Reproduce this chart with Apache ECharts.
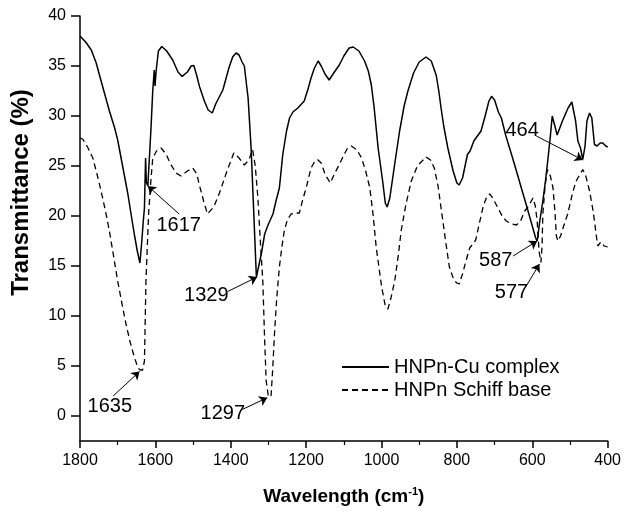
<!DOCTYPE html>
<html>
<head>
<meta charset="utf-8">
<script src="https://cdn.jsdelivr.net/npm/echarts@6/dist/echarts.min.js"></script>
<style>
html,body{margin:0;padding:0;background:#fff;}
#chart{width:624px;height:511px;}
</style>
</head>
<body>
<div id="chart"></div>
<script>
// ---- Data ----
const seriesNames = ['HNPn-Cu complex', 'HNPn Schiff base'];

const cuWave = [1800,1797,1785,1770,1757,1744,1733,1722,1708,1700,1691,1682,1673,1665,1656,1648,1641,1636,1632,1629,1626,1624,1620,1617,1612,1607,1603,1601,1598,1592,1583,1570,1554,1540,1529,1515,1505,1498,1490,1483,1470,1460,1449,1440,1421,1405,1395,1386,1378,1370,1364,1354,1346,1332,1329,1319,1310,1300,1288,1280,1271,1262,1252,1244,1235,1222,1205,1195,1187,1178,1168,1160,1150,1139,1125,1112,1100,1086,1075,1060,1045,1035,1027,1020,1009,997,990,985,978,965,952,940,930,915,900,882,868,855,848,842,835,824,810,800,794,785,772,765,755,736,725,715,708,700,690,682,670,655,642,629,615,600,591,587,580,572,565,559,552,547,545,540,534,520,505,495,490,485,479,472,466,460,455,448,442,435,428,420,413,405,400];
const cuTrans = [38.0,37.9,37.4,36.6,35.3,33.5,32.0,30.5,28.8,27.6,25.8,24.0,22.2,20.3,18.2,16.5,15.3,17.5,19.5,20.8,25.8,23.4,23.0,23.2,28.5,32.5,34.6,33.0,34.5,36.5,36.95,36.5,35.6,34.4,33.96,34.4,35.0,35.06,34.0,32.96,31.5,30.6,30.3,31.2,32.6,34.8,35.9,36.3,36.1,35.4,35.0,31.8,26.8,13.9,13.9,16.2,18.2,19.2,20.2,21.5,22.8,26.15,28.5,29.8,30.4,30.8,31.5,32.7,33.8,34.8,35.5,35.0,34.2,33.6,34.4,35.1,36.0,36.8,36.9,36.5,35.5,34.5,33.1,31.0,26.8,23.5,21.3,20.9,21.8,25.2,28.5,31.0,32.5,34.3,35.4,35.9,35.5,34.1,32.5,30.8,29.0,26.8,24.5,23.3,23.1,23.8,26.15,26.5,27.5,28.5,30.0,31.5,31.97,31.6,30.4,29.8,28.0,26.15,24.5,22.8,21.0,19.0,17.8,17.5,19.5,21.5,23.5,25.5,28.0,30.0,30.1,29.0,28.1,29.5,30.8,31.4,31.2,29.5,27.5,26.8,25.65,27.0,29.5,30.3,29.8,27.15,27.0,27.3,27.3,27.0,26.9];

const schiffWave = [1800,1793,1780,1766,1755,1744,1733,1722,1711,1700,1689,1678,1667,1656,1646,1640,1634,1629,1625,1618,1612,1607,1597,1585,1572,1559,1545,1532,1515,1501,1490,1484,1472,1462,1458,1445,1430,1410,1392,1378,1364,1352,1342,1335,1328,1320,1315,1310,1306,1300,1293,1289,1284,1278,1271,1264,1258,1250,1240,1228,1218,1210,1200,1187,1178,1170,1160,1150,1136,1125,1112,1100,1090,1080,1065,1053,1042,1031,1022,1014,1000,990,983,975,965,955,948,935,921,905,882,870,860,850,842,830,820,808,800,794,785,776,766,758,750,742,730,720,713,705,691,680,669,655,642,630,620,610,598,592,587,582,577,574,572,566,560,552,545,540,536,532,525,515,506,495,485,479,466,458,448,440,435,430,426,422,418,414,409,400];
const schiffTrans = [27.8,27.7,26.9,25.8,24.2,22.5,20.6,18.5,16.0,13.5,11.3,9.2,7.4,5.9,4.8,4.6,4.6,5.5,13.5,20.2,23.5,25.8,26.5,26.8,26.2,25.15,24.3,24.0,24.5,24.8,24.2,23.2,21.5,20.2,20.0,20.9,22.3,24.5,26.3,25.8,25.1,25.6,26.65,25.0,21.8,16.5,13.5,7.5,3.5,1.9,2.05,4.5,8.2,11.8,14.9,17.0,18.5,19.6,20.2,20.3,20.3,21.5,22.8,24.8,25.4,25.65,25.3,24.2,23.3,24.2,25.15,26.1,26.8,27.0,26.6,25.8,24.5,22.8,20.0,16.85,13.0,11.0,10.7,11.8,13.5,16.2,18.5,21.2,23.5,25.0,25.9,25.6,24.8,23.0,20.8,17.5,14.9,13.6,13.3,13.2,14.2,15.5,16.8,17.2,17.6,19.0,21.0,22.0,22.2,21.8,20.8,20.0,19.5,19.2,19.1,19.6,20.5,21.0,21.8,21.0,19.5,16.5,15.35,17.0,20.2,23.0,24.65,24.0,22.8,20.5,18.0,17.5,18.0,19.2,20.2,22.0,23.4,23.8,24.65,24.0,22.5,20.8,19.5,18.0,17.0,17.2,17.4,17.2,17.0,16.9];

// Tick labels
const xTicks = [1800,1600,1400,1200,1000,800,600,400];
const yTicks = [0,5,10,15,20,25,30,35,40];

// Peak annotations: label, label centre [wave, T], arrow start [wave, T], arrow tip [wave, T]
const annoLabel = ['1617','1329','1635','1297','587','577','464'];
const annoText  = [[1538,19.1],[1465,12.1],[1721,1.0],[1421,0.3],[697,15.6],[655,12.4],[627,28.6]];
const annoStart = [[1537,20.2],[1408,12.45],[1712,2.0],[1369,0.66],[651,16.0],[616,13.0],[589,28.0]];
const annoTip   = [[1620,23.0],[1330,13.9],[1642,4.45],[1303,1.83],[587,17.5],[581,15.2],[466,25.6]];

// ---- Build chart ----
const zip = (a, b) => a.map((v, i) => [v, b[i]]);
const FONT = "'Liberation Sans', Arial, sans-serif";

const chart = echarts.init(document.getElementById('chart'), null, {renderer: 'canvas'});

const option = {
  animation: false,
  backgroundColor: '#fff',
  textStyle: {fontFamily: FONT},
  grid: {left: 80, right: 14, top: 16, bottom: 69, containLabel: false},
  legend: {
    data: seriesNames,
    orient: 'vertical',
    left: 336,
    top: 352,
    itemWidth: 47,
    itemHeight: 14,
    itemGap: 3,
    itemStyle: {opacity: 0},
    textStyle: {fontFamily: FONT, fontSize: 20, color: '#000', lineHeight: 20, padding: [0,0,0,0]}
  },
  xAxis: {
    type: 'value',
    inverse: true,
    min: 400,
    max: 1800,
    interval: 200,
    name: 'Wavelength (cm{sup|-1})',
    nameLocation: 'middle',
    nameGap: 45,
    nameTextStyle: {
      fontFamily: FONT, fontSize: 19, fontWeight: 'bold', color: '#000',
      rich: {sup: {fontFamily: FONT, fontSize: 11, fontWeight: 'bold', color: '#000', padding: [0,0,10,0]}}
    },
    axisLine: {show: true, onZero: false, lineStyle: {color: '#000', width: 1.5}},
    axisTick: {show: true, inside: false, length: 7, lineStyle: {color: '#000', width: 1.5}},
    minorTick: {show: true, splitNumber: 2, length: 4, lineStyle: {color: '#000', width: 1.2}},
    axisLabel: {
      fontFamily: FONT, fontSize: 16, color: '#000', margin: 12,
      customValues: xTicks,
      formatter: v => String(v)
    },
    splitLine: {show: false},
    minorSplitLine: {show: false}
  },
  yAxis: {
    type: 'value',
    min: -2.5,
    max: 40,
    name: 'Transmittance (%)',
    nameLocation: 'middle',
    nameGap: 47,
    nameRotate: 90,
    nameTextStyle: {fontFamily: FONT, fontSize: 24, fontWeight: 'bold', color: '#000', padding: [0,0,0,72]},
    axisLine: {show: true, onZero: false, lineStyle: {color: '#000', width: 1.5}},
    axisTick: {show: true, inside: false, length: 9, lineStyle: {color: '#000', width: 1.5}, customValues: yTicks},
    axisLabel: {fontFamily: FONT, fontSize: 16, color: '#000', margin: 14, customValues: yTicks, formatter: v => String(v)},
    splitLine: {show: false}
  },
  series: [
    {
      name: seriesNames[0],
      type: 'line',
      data: zip(cuWave, cuTrans),
      symbol: 'none',
      smooth: false,
      lineStyle: {color: '#000', width: 1.5, type: 'solid'},
      itemStyle: {color: '#000'},
      z: 3,
      markLine: {
        silent: true,
        symbol: ['none', 'arrow'],
        symbolSize: 8,
        label: {show: false},
        lineStyle: {color: '#000', width: 1, type: 'solid'},
        emphasis: {disabled: true},
        data: annoStart.map((s, i) => [
          {coord: s},
          {coord: annoTip[i]}
        ])
      },
      markPoint: {
        silent: true,
        symbol: 'circle',
        symbolSize: 1,
        itemStyle: {color: 'rgba(0,0,0,0)'},
        label: {show: true, position: 'inside', formatter: '{b}', fontFamily: FONT, fontSize: 20, color: '#000'},
        data: annoLabel.map((t, i) => ({name: t, coord: annoText[i]}))
      }
    },
    {
      name: seriesNames[1],
      type: 'line',
      data: zip(schiffWave, schiffTrans),
      symbol: 'none',
      smooth: false,
      lineStyle: {color: '#000', width: 1.3, type: [6, 4]},
      itemStyle: {color: '#000'},
      z: 2
    }
  ]
};
chart.setOption(option);
</script>
</body>
</html>
